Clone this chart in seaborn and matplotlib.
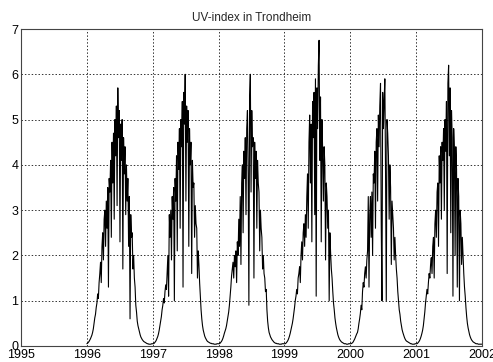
import numpy as np
import pandas as pd
import matplotlib
matplotlib.use("Agg")
import matplotlib.pyplot as plt
import seaborn as sns

# UV-index sampled every 4 days, one list per year (day-of-year 0, 4, ..., 364)
uv_1996 = [0.05, 0.06, 0.08, 0.10, 0.13, 0.16, 0.20, 0.24, 0.30, 0.38,
           0.50, 0.62, 0.70, 0.85, 0.95, 1.15, 1.05, 1.40, 1.60, 1.85,
           1.40, 2.20, 2.50, 1.90, 2.80, 3.00, 2.20, 3.20, 2.60, 3.50,
           1.30, 3.70, 3.40, 4.10, 2.40, 4.50, 3.60, 4.70, 2.80, 5.00,
           4.20, 5.30, 3.10, 5.70, 4.60, 5.20, 2.30, 4.90, 4.10, 5.00,
           1.70, 4.60, 3.80, 4.40, 2.90, 4.00, 3.20, 3.70, 2.20, 3.30,
           0.60, 2.90, 2.40, 2.50, 1.70, 2.00, 1.50, 1.30, 0.90, 0.75,
           0.55, 0.45, 0.38, 0.30, 0.25, 0.20, 0.17, 0.14, 0.12, 0.10,
           0.09, 0.08, 0.07, 0.06, 0.05, 0.05, 0.04, 0.04, 0.04, 0.04, 0.05, 0.05]
uv_1997 = [0.05, 0.05, 0.06, 0.08, 0.10, 0.13, 0.17, 0.21, 0.27, 0.35,
           0.45, 0.55, 0.65, 0.80, 0.90, 1.05, 0.95, 1.20, 1.35, 1.25,
           1.60, 2.00, 1.10, 2.90, 2.40, 3.00, 1.90, 3.30, 2.80, 3.50,
           1.00, 3.70, 3.20, 4.20, 2.10, 4.50, 3.90, 4.80, 2.60, 5.00,
           4.40, 5.40, 1.30, 5.60, 4.90, 6.00, 3.20, 5.30, 4.50, 5.20,
           2.20, 4.80, 4.00, 4.50, 1.60, 4.10, 3.50, 3.60, 2.40, 3.10,
           2.70, 2.60, 1.50, 2.10, 1.80, 1.40, 1.10, 0.80, 0.60, 0.45,
           0.35, 0.28, 0.22, 0.18, 0.15, 0.12, 0.10, 0.09, 0.08, 0.07,
           0.06, 0.06, 0.05, 0.05, 0.05, 0.04, 0.04, 0.04, 0.04, 0.05, 0.05, 0.05]
uv_1998 = [0.05, 0.05, 0.06, 0.08, 0.10, 0.13, 0.17, 0.22, 0.28, 0.33,
           0.38, 0.45, 0.55, 0.65, 0.75, 0.90, 1.10, 1.30, 1.55, 1.70,
           1.85, 1.50, 2.00, 1.75, 2.10, 1.40, 2.30, 2.00, 2.80, 2.20,
           3.30, 1.80, 3.60, 4.00, 2.50, 4.30, 3.70, 4.60, 2.90, 4.80,
           5.20, 3.80, 0.90, 5.50, 6.00, 3.40, 5.20, 4.40, 4.60, 1.50,
           4.50, 3.70, 4.30, 2.60, 4.10, 3.60, 3.40, 2.10, 3.00, 2.60,
           2.40, 1.70, 2.00, 1.60, 1.50, 1.20, 1.25, 0.80, 0.55, 0.40,
           0.30, 0.25, 0.20, 0.17, 0.14, 0.12, 0.10, 0.08, 0.07, 0.06,
           0.06, 0.05, 0.05, 0.05, 0.04, 0.04, 0.04, 0.04, 0.05, 0.05, 0.05, 0.05]
uv_1999 = [0.05, 0.05, 0.06, 0.08, 0.10, 0.13, 0.17, 0.22, 0.28, 0.35,
           0.42, 0.50, 0.60, 0.72, 0.85, 1.00, 1.10, 1.25, 1.15, 1.50,
           1.60, 1.75, 1.40, 2.00, 2.30, 1.90, 2.50, 2.70, 2.20, 2.90,
           2.40, 3.30, 3.80, 2.60, 4.50, 5.10, 3.60, 4.90, 2.30, 5.40,
           4.60, 5.60, 2.90, 5.90, 1.10, 5.70, 4.80, 6.20, 6.75, 4.10,
           5.50, 2.30, 5.00, 4.30, 3.20, 4.40, 4.00, 1.90, 3.60, 3.30,
           2.60, 3.00, 1.00, 2.50, 2.05, 1.70, 1.50, 1.20, 0.95, 0.80,
           0.62, 0.50, 0.40, 0.32, 0.25, 0.20, 0.16, 0.13, 0.11, 0.09,
           0.08, 0.07, 0.06, 0.05, 0.05, 0.05, 0.04, 0.04, 0.04, 0.05, 0.05, 0.05]
uv_2000 = [0.05, 0.05, 0.06, 0.07, 0.09, 0.12, 0.15, 0.19, 0.23, 0.27,
           0.30, 0.38, 0.50, 0.60, 0.72, 0.90, 0.80, 1.20, 1.40, 1.30,
           1.60, 1.75, 1.50, 1.90, 2.10, 3.30, 1.30, 2.90, 3.30, 2.40,
           3.40, 2.00, 3.80, 3.60, 4.30, 2.60, 4.50, 4.80, 3.20, 5.10,
           4.40, 5.30, 5.80, 2.70, 1.00, 5.60, 4.80, 5.40, 5.90, 3.80,
           1.00, 5.00, 4.70, 4.20, 2.80, 4.00, 3.50, 1.80, 3.20, 2.90,
           2.60, 1.90, 2.40, 2.00, 1.70, 1.50, 1.20, 1.00, 0.80, 0.70,
           0.55, 0.45, 0.36, 0.30, 0.25, 0.20, 0.16, 0.13, 0.11, 0.10,
           0.09, 0.08, 0.07, 0.06, 0.05, 0.05, 0.04, 0.04, 0.04, 0.04, 0.05, 0.05]
uv_2001 = [0.05, 0.05, 0.06, 0.08, 0.10, 0.13, 0.17, 0.22, 0.28, 0.35,
           0.45, 0.60, 0.75, 0.95, 1.10, 1.25, 1.15, 1.40, 1.60, 1.50,
           1.80, 1.95, 1.60, 2.20, 2.40, 1.50, 2.70, 3.00, 2.40, 3.40,
           3.60, 2.20, 4.20, 3.60, 4.40, 2.80, 4.50, 4.10, 4.80, 3.00,
           5.00, 4.30, 5.40, 1.60, 5.80, 6.20, 4.20, 5.70, 2.50, 5.20,
           4.60, 1.10, 4.80, 4.30, 2.00, 4.40, 3.90, 1.30, 3.70, 3.30,
           1.00, 3.00, 2.70, 1.80, 2.40, 2.00, 1.60, 1.30, 1.10, 0.85,
           0.65, 0.50, 0.40, 0.32, 0.25, 0.20, 0.16, 0.13, 0.11, 0.09,
           0.08, 0.07, 0.06, 0.05, 0.05, 0.05, 0.04, 0.04, 0.04, 0.04, 0.04, 0.04]

years = [1996, 1997, 1998, 1999, 2000, 2001]
series = [uv_1996, uv_1997, uv_1998, uv_1999, uv_2000, uv_2001]
year_ticks = [1995, 1996, 1997, 1998, 1999, 2000, 2001, 2002]
y_ticks = [0, 1, 2, 3, 4, 5, 6, 7]
title = "UV-index in Trondheim"

frames = []
for yr, vals in zip(years, series):
    dates = pd.date_range(f"{yr}-01-01", periods=len(vals), freq="4D")
    ndays = 366 if pd.Timestamp(f"{yr}-12-31").dayofyear == 366 else 365
    x = yr + (dates.dayofyear - 1) / ndays
    frames.append(pd.DataFrame({"year": x, "uv": vals}))
df = pd.concat(frames, ignore_index=True)

sns.set_style("white")
plt.rcParams["font.family"] = ["Liberation Sans", "DejaVu Sans"]

fig = plt.figure(figsize=(4.93, 3.62), dpi=100)
ax = fig.add_axes([21 / 493, 16 / 362, 461 / 493, 317 / 362])
sns.lineplot(data=df, x="year", y="uv", ax=ax, color="black", linewidth=0.8,
             estimator=None, sort=False)

ax.set_xlim(1995, 2002)
ax.set_ylim(0, 7)
ax.set_xticks(year_ticks)
ax.set_xticklabels([str(t) for t in year_ticks])
ax.set_yticks(y_ticks)
ax.set_yticklabels([str(t) for t in y_ticks])
ax.grid(True, linestyle=(0, (1.5, 2)), color="#333333", linewidth=0.7)
ax.set_xlabel("")
ax.set_ylabel("")
for s in ax.spines.values():
    s.set_color("#444444")
    s.set_linewidth(0.8)
ax.tick_params(axis="both", direction="in", length=3, labelsize=9,
               colors="black", pad=2, left=False, bottom=False)
ax.set_title(title, fontsize=8.5, pad=6)

fig.savefig("out.png", dpi=100, facecolor="white")
